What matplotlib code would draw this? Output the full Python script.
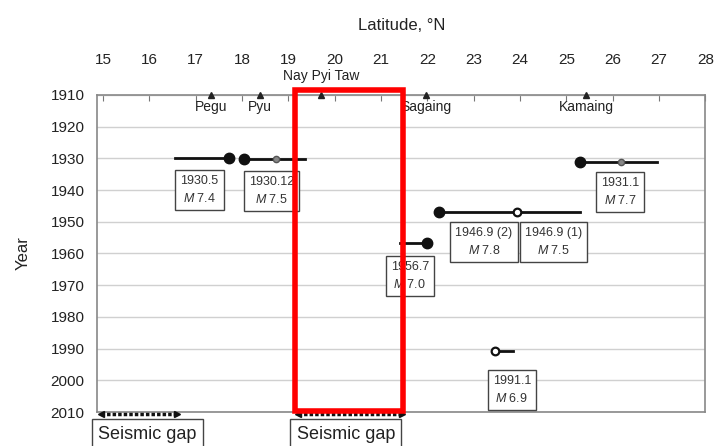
import matplotlib
matplotlib.use('Agg')
import matplotlib.pyplot as plt
from matplotlib.patches import Rectangle

plt.rcParams['font.family'] = ['Liberation Sans', 'DejaVu Sans']
plt.rcParams['mathtext.fontset'] = 'custom'
plt.rcParams['mathtext.it'] = 'Liberation Sans:italic'
plt.rcParams['mathtext.rm'] = 'Liberation Sans'

# places along the top of the plot
place_names = ['Pegu', 'Pyu', 'Nay Pyi Taw', 'Sagaing', 'Kamaing']
place_lat = [17.33, 18.38, 19.7, 21.96, 25.43]

# rupture lines (year, start lat, end lat)
rupture_year = [1930.0, 1930.2, 1931.0, 1946.9, 1956.7, 1990.9]
rupture_start = [16.55, 18.05, 25.3, 22.25, 21.4, 23.45]
rupture_end = [17.72, 19.35, 26.95, 25.3, 22.0, 23.85]

# epicentres (big dots)
epi_lat = [17.72, 18.05, 25.3, 22.25, 22.0]
epi_year = [1930.0, 1930.2, 1931.0, 1946.9, 1956.7]

# secondary markers
sub_lat = [18.73, 26.18, 23.93, 23.45]
sub_year = [1930.2, 1931.0, 1946.9, 1990.9]

# earthquake labels
quake_labels = ['1930.5', '1930.12', '1931.1', '1946.9 (2)', '1946.9 (1)', '1956.7', '1991.1']
quake_mag = [7.4, 7.5, 7.7, 7.8, 7.5, 7.0, 6.9]
label_lat = [17.08, 18.64, 26.16, 23.22, 24.72, 21.62, 23.82]
label_year = [1940.0, 1940.3, 1940.6, 1956.4, 1956.4, 1967.1, 2003.0]

# seismic gaps
gap_start = [14.95, 19.2]
gap_end = [16.6, 21.45]
gap_center = [15.96, 20.24]

fig = plt.figure(figsize=(7.15, 4.46), dpi=100)
ax = fig.add_axes([0.1357, 0.0762, 0.851, 0.711])

ax.set_xlim(14.87, 28.0)
ax.set_ylim(2010, 1910)
ax.set_xticks(range(15, 29))
ax.set_yticks(range(1910, 2011, 10))
ax.xaxis.tick_top()
ax.xaxis.set_label_position('top')
ax.tick_params(axis='x', direction='in', length=4, color='#777777', pad=20,
               labelsize=11, labelcolor='#222222')
ax.tick_params(axis='y', length=0, labelsize=11, labelcolor='#222222', pad=9)
ax.set_xlabel('Latitude, °N', fontsize=12, labelpad=17, color='#222222')
ax.set_ylabel('Year', fontsize=12, color='#222222', labelpad=14)
ax.grid(axis='y', color='#d0d0d0', lw=1)
ax.set_axisbelow(True)
for s in ax.spines.values():
    s.set_color('#888888')
    s.set_linewidth(1.2)

# places
ax.plot(place_lat, [1910] * len(place_lat), '^', color='#222222', ms=4, clip_on=False, zorder=5)
for name, lat in zip(place_names, place_lat):
    if name == 'Nay Pyi Taw':
        ax.text(lat, 1906.2, name, ha='center', va='bottom', fontsize=10, color='#222222')
    else:
        ax.text(lat, 1911.5, name, ha='center', va='top', fontsize=10, color='#222222')

# ruptures
for y, a, b in zip(rupture_year, rupture_start, rupture_end):
    ax.plot([a, b], [y, y], color='#111111', lw=2, zorder=3)
ax.plot(epi_lat, epi_year, 'o', color='#111111', ms=7.5, zorder=4)
ax.plot(sub_lat[:2], sub_year[:2], 'o', color='#555555', mfc='#888888', ms=4.5, zorder=4)
ax.plot(sub_lat[2:], sub_year[2:], 'o', color='#111111', mfc='white', ms=5.5, mew=1.6, zorder=4)

# labels
for lab, m, x, y in zip(quake_labels, quake_mag, label_lat, label_year):
    ax.text(x, y, lab + '\n' + r'$\it{M}$ ' + f'{m:.1f}', ha='center', va='center',
            fontsize=9, color='#333333', linespacing=1.55,
            bbox=dict(boxstyle='square,pad=0.4', fc='white', ec='#444444', lw=1), zorder=6)

# seismic gaps
for a, b, c in zip(gap_start, gap_end, gap_center):
    ax.plot([a, b], [2010.5, 2010.5], color='#111111', ls=(0, (1, 0.6)), lw=2.5,
            clip_on=False, zorder=5)
    ax.plot([a], [2010.5], '<', color='#111111', ms=5, clip_on=False, zorder=5)
    ax.plot([b], [2010.5], '>', color='#111111', ms=5, clip_on=False, zorder=5)
    ax.text(c, 2017.0, 'Seismic gap', ha='center', va='center', fontsize=13,
            color='#222222', clip_on=False,
            bbox=dict(boxstyle='square,pad=0.35', fc='white', ec='#444444', lw=1))

# red highlight box
ax.add_patch(Rectangle((19.15, 1908.4), 2.32, 101.4, fill=False, ec='#ff0000', lw=4,
                       clip_on=False, zorder=7))

fig.savefig('out.png', dpi=100)
